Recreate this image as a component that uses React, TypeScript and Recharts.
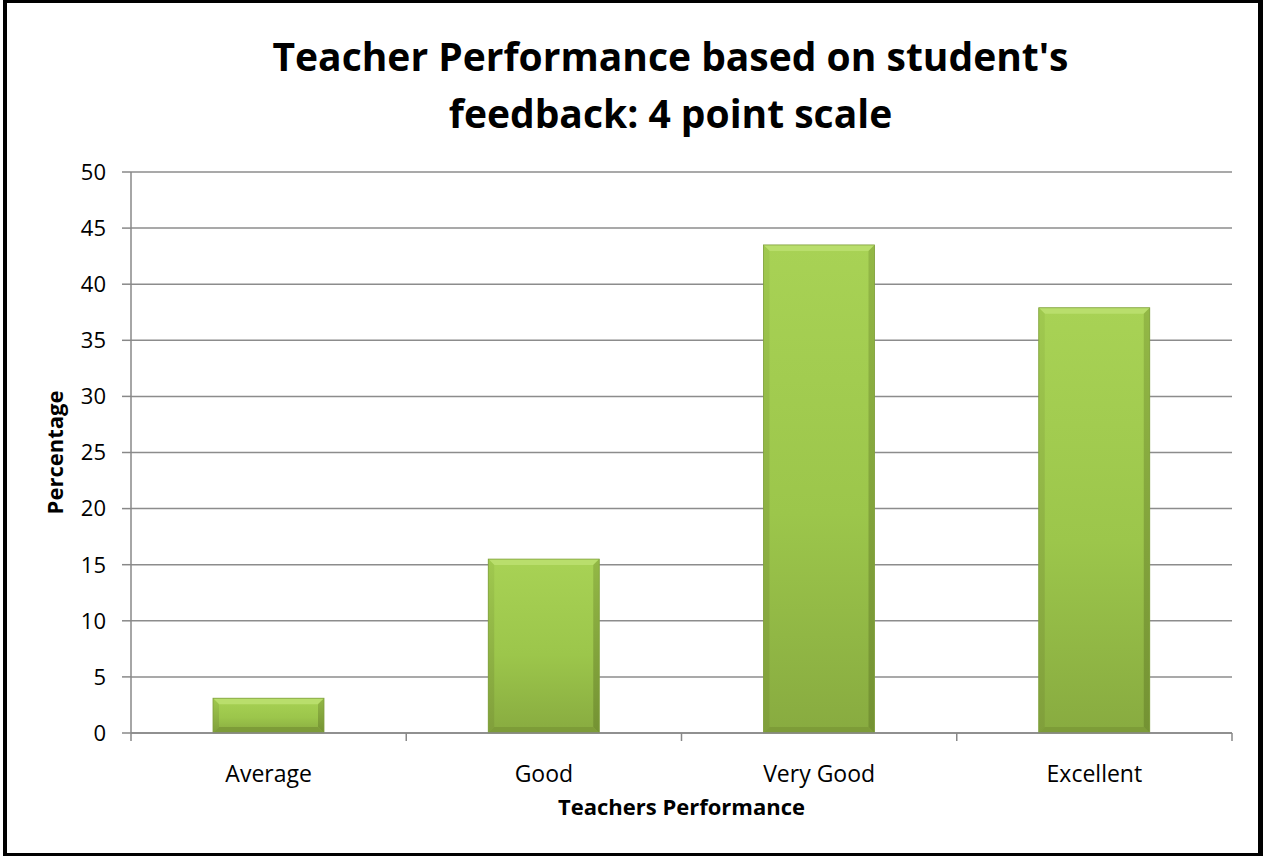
import React from 'react';
import { Bar, BarChart, CartesianGrid, XAxis, YAxis, Label } from 'recharts';

const categories = ['Average', 'Good', 'Very Good', 'Excellent'];
const percentages = [3.1, 15.5, 43.5, 37.9];
const yTicks = [0, 5, 10, 15, 20, 25, 30, 35, 40, 45, 50];

const chartData = categories.map((name, i) => ({ name, value: percentages[i] }));

const W = 1263;
const H = 856;
const margin = { top: 172, right: 31, bottom: 63, left: 61 };
const yAxisWidth = 70;
const plotWidth = W - margin.left - margin.right - yAxisWidth;
const bandHalf = plotWidth / categories.length / 2;

const font = '"Open Sans", sans-serif';

function BevelBar(props: any) {
  const { x, y, width, height } = props;
  if (!height || height <= 0) return null;
  const b = Math.min(6, height / 2);
  return (
    <g>
      <rect x={x} y={y} width={width} height={height} fill="url(#barBody)" />
      <polygon
        points={`${x},${y} ${x + width},${y} ${x + width - b},${y + b} ${x + b},${y + b}`}
        fill="#b9de6c"
      />
      <polygon
        points={`${x},${y} ${x + b},${y + b} ${x + b},${y + height - b} ${x},${y + height}`}
        fill="url(#barLeft)"
      />
      <polygon
        points={`${x + width},${y} ${x + width - b},${y + b} ${x + width - b},${y + height - b} ${x + width},${y + height}`}
        fill="url(#barRight)"
      />
      <polygon
        points={`${x},${y + height} ${x + b},${y + height - b} ${x + width - b},${y + height - b} ${x + width},${y + height}`}
        fill="#7d9c38"
      />
      <rect x={x} y={y} width={width} height={height} fill="none" stroke="#7f9f3c" strokeWidth={0.8} />
    </g>
  );
}

function CategoryTick(props: any) {
  const { x, y, payload, index } = props;
  const axisY = y - 8;
  return (
    <g>
      <line x1={x - bandHalf} y1={axisY} x2={x - bandHalf} y2={axisY + 8} stroke="#888" strokeWidth={1.5} />
      {index === categories.length - 1 && (
        <line x1={x + bandHalf} y1={axisY} x2={x + bandHalf} y2={axisY + 8} stroke="#888" strokeWidth={1.5} />
      )}
      <text x={x} y={y + 41} textAnchor="middle" fontFamily={font} fontSize={23} fill="#000">
        {payload.value}
      </text>
    </g>
  );
}

export default function App() {
  return (
    <div style={{ position: 'absolute', left: 0, top: 0, width: W, height: H, background: '#fff' }}>
      <div
        style={{
          position: 'absolute',
          left: 0,
          top: 27,
          width: W,
          textAlign: 'center',
          paddingLeft: 78,
          boxSizing: 'border-box',
          fontFamily: font,
          fontWeight: 700,
          fontSize: 39,
          lineHeight: '57px',
          color: '#000',
        }}
      >
        Teacher Performance based on student's
        <br />
        feedback: 4 point scale
      </div>
      <BarChart width={W} height={H} data={chartData} margin={margin} barSize={111}>
        <defs>
          <linearGradient id="barBody" x1="0" y1="0" x2="0" y2="1">
            <stop offset="0%" stopColor="#a8d255" />
            <stop offset="55%" stopColor="#9cc64b" />
            <stop offset="100%" stopColor="#88ab40" />
          </linearGradient>
          <linearGradient id="barLeft" x1="0" y1="0" x2="0" y2="1">
            <stop offset="0%" stopColor="#a0c94f" />
            <stop offset="100%" stopColor="#809f3b" />
          </linearGradient>
          <linearGradient id="barRight" x1="0" y1="0" x2="0" y2="1">
            <stop offset="0%" stopColor="#93b846" />
            <stop offset="100%" stopColor="#749233" />
          </linearGradient>
        </defs>
        <CartesianGrid vertical={false} stroke="#8c8c8c" strokeWidth={1.5} />
        <XAxis
          dataKey="name"
          axisLine={{ stroke: '#888', strokeWidth: 1.5 }}
          tickLine={false}
          tick={<CategoryTick />}
          height={60}
          interval={0}
        >
          <Label
            value="Teachers Performance"
            position="insideBottom"
            offset={-22}
            style={{ fontFamily: font, fontWeight: 700, fontSize: 22, fill: '#000' }}
          />
        </XAxis>
        <YAxis
          width={yAxisWidth}
          domain={[0, 50]}
          ticks={yTicks}
          interval={0}
          axisLine={{ stroke: '#888', strokeWidth: 1.5 }}
          tickLine={{ stroke: '#888', strokeWidth: 1.5 }}
          tickSize={9}
          tickMargin={16}
          tick={{ fontFamily: font, fontSize: 22, fill: '#000' }}
        >
          <Label
            value="Percentage"
            angle={-90}
            position="insideLeft"
            offset={-6}
            style={{ fontFamily: font, fontWeight: 700, fontSize: 22, fill: '#000', textAnchor: 'middle' }}
          />
        </YAxis>
        <Bar dataKey="value" shape={<BevelBar />} isAnimationActive={false} />
      </BarChart>
      <div
        style={{
          position: 'absolute',
          left: 3,
          top: 0,
          width: W - 3,
          height: H,
          boxSizing: 'border-box',
          borderLeft: '4px solid #000',
          borderTop: '3px solid #000',
          borderRight: '5px solid #000',
          borderBottom: '3px solid #000',
          pointerEvents: 'none',
        }}
      />
    </div>
  );
}
